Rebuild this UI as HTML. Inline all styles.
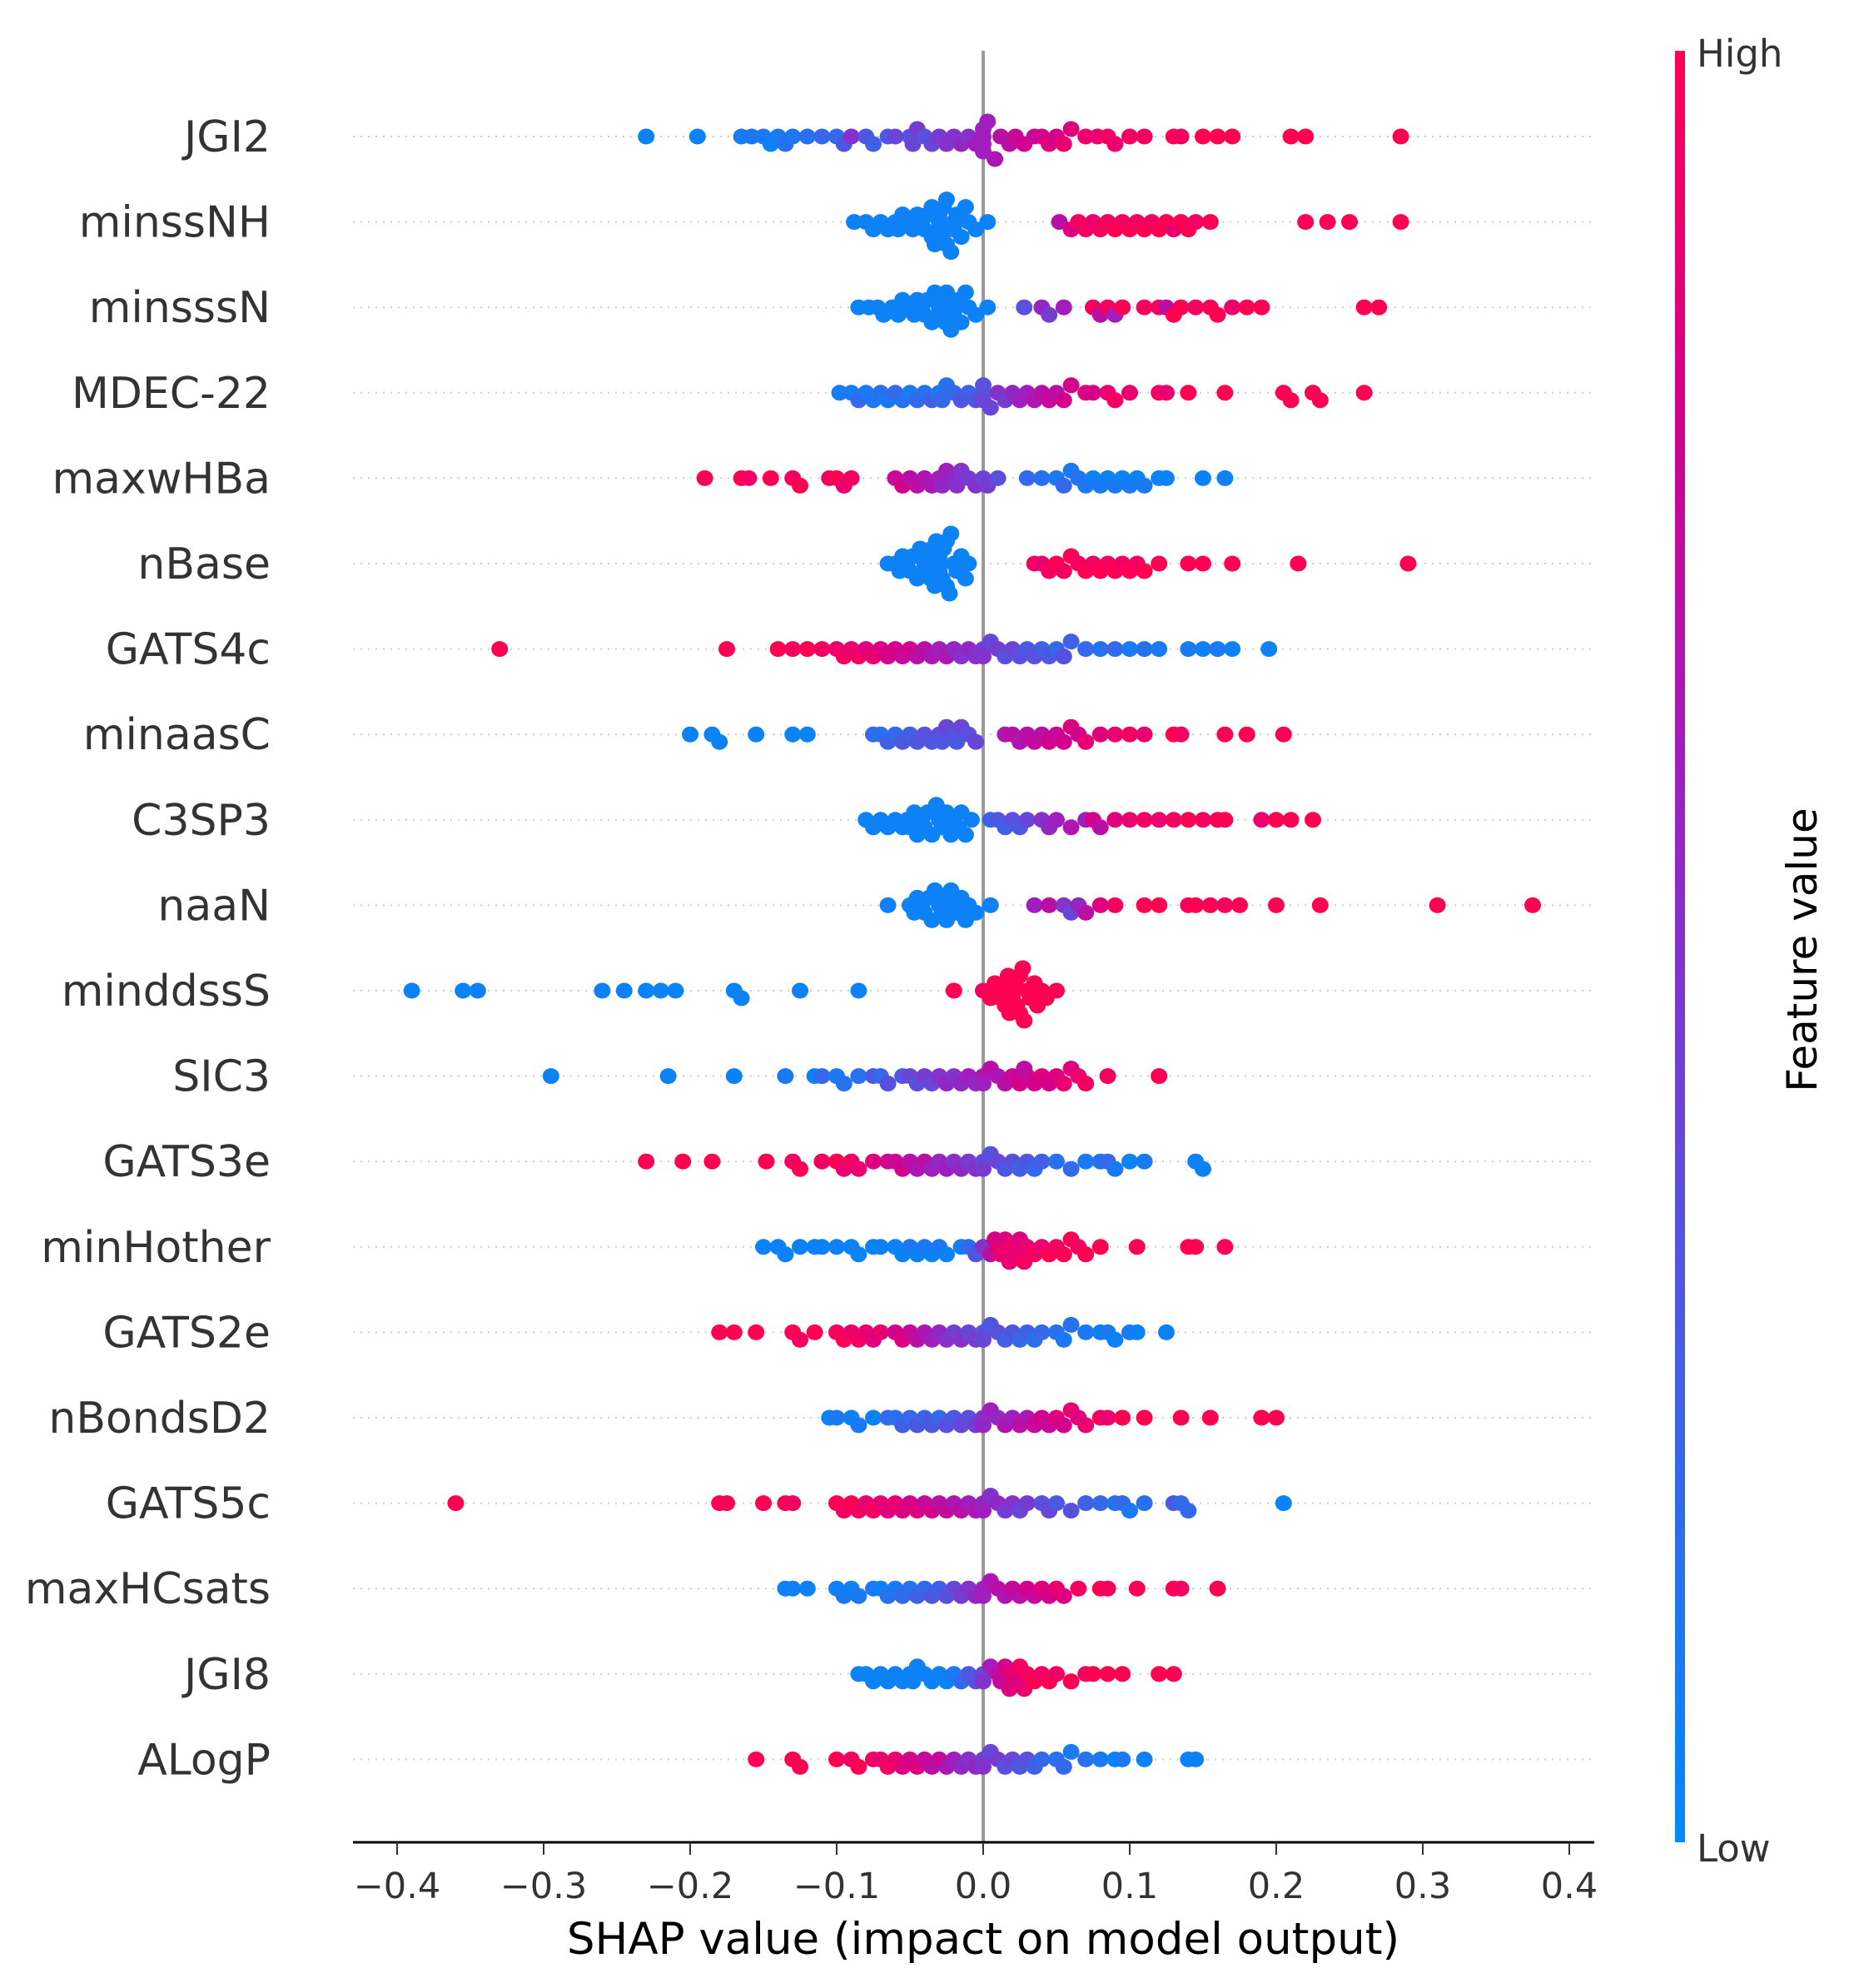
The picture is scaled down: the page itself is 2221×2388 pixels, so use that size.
<!DOCTYPE html>
<html><head><meta charset="utf-8"><style>
html,body{margin:0;padding:0;background:#fff;}
svg text{font-family:"DejaVu Sans","Liberation Sans",sans-serif;fill:#333;}
</style></head><body>
<svg id="chart" width="2221" height="2383" viewBox="0 0 2221 2383" xmlns="http://www.w3.org/2000/svg">
<defs><linearGradient id="cbg" x1="0" y1="1" x2="0" y2="0">
<stop offset="0" stop-color="rgb(0,138,251)"/><stop offset="0.35" stop-color="rgb(90,80,222)"/><stop offset="0.6" stop-color="rgb(160,30,190)"/><stop offset="0.8" stop-color="rgb(212,0,140)"/><stop offset="1" stop-color="rgb(255,0,82)"/></linearGradient></defs>
<g id="grid"></g><g id="labels"></g>
<line x1="1181" y1="61" x2="1181" y2="2213" stroke="#999" stroke-width="4"/>
<g id="dots"></g>
<line x1="424" y1="2213" x2="1915" y2="2213" stroke="#000" stroke-width="3"/>
<g id="ticks"></g>
<text x="1181" y="2347" font-size="53" text-anchor="middle" style="fill:#000">SHAP value (impact on model output)</text>
<rect x="2012" y="61" width="12" height="2152" fill="url(#cbg)"/>
<text x="2038" y="80" font-size="45">High</text>
<text x="2038" y="2236" font-size="45">Low</text>
<text x="0" y="0" font-size="50" text-anchor="middle" transform="translate(2182,1141) rotate(-90)" style="fill:#000">Feature value</text>
</svg>
<script>
const features=["JGI2","minssNH","minsssN","MDEC-22","maxwHBa","nBase","GATS4c","minaasC","C3SP3","naaN","minddssS","SIC3","GATS3e","minHother","GATS2e","nBondsD2","GATS5c","maxHCsats","JGI8","ALogP"];
const xTicks=[-0.4,-0.3,-0.2,-0.1,0.0,0.1,0.2,0.3,0.4];
const xTickLabels=["\u22120.4","\u22120.3","\u22120.2","\u22120.1","0.0","0.1","0.2","0.3","0.4"];
const shapJGI2=[[-0.23,.05],[-0.195,.05],[-0.165,.1],[-0.158,.1],[-0.15,.1],[-0.145,.05],[-0.14,.1],[-0.135,.15],[-0.13,.1],[-0.12,.15],[-0.11,.2],[-0.1,.2],[-0.095,.3],[-0.09,.5],[-0.08,.3],[-0.075,.25],[-0.065,.3],[-0.06,.4],[-0.05,.35],[-0.048,.4],[-0.045,.45],[-0.04,.35],[-0.035,.4],[-0.03,.45],[-0.025,.5],[-0.02,.5],[-0.015,.55],[-0.01,.5],[-0.005,.6],[0,.6],[0,.6],[0,.6],[0,.6],[0.003,.6],[0.008,.65],[0.012,.7],[0.018,.7],[0.022,.75],[0.028,.8],[0.035,.75],[0.04,.8],[0.045,.85],[0.05,.8],[0.055,.9],[0.06,.85],[0.07,.9],[0.078,.9],[0.085,.95],[0.09,.9],[0.1,.95],[0.11,.95],[0.13,1],[0.135,.95],[0.15,1],[0.16,1],[0.17,1],[0.21,1],[0.22,1],[0.285,1]];
const shapMinssNH=[[-0.088,.05],[-0.08,.05],[-0.075,.05],[-0.07,.05],[-0.065,.05],[-0.06,.05],[-0.058,.05],[-0.055,.05],[-0.05,.05],[-0.048,.05],[-0.045,.05],[-0.042,.05],[-0.04,.05],[-0.038,.05],[-0.035,.05],[-0.035,.05],[-0.033,.05],[-0.03,.05],[-0.03,.05],[-0.03,.05],[-0.028,.05],[-0.027,.05],[-0.025,.05],[-0.025,.05],[-0.022,.05],[-0.02,.05],[-0.02,.05],[-0.018,.05],[-0.015,.05],[-0.012,.05],[-0.01,.05],[-0.005,.05],[0.003,.05],[0.052,.7],[0.06,.85],[0.065,.95],[0.07,.95],[0.075,.9],[0.08,.95],[0.085,.95],[0.09,1],[0.095,.95],[0.1,1],[0.105,.95],[0.11,1],[0.115,.95],[0.12,1],[0.125,1],[0.13,.9],[0.135,1],[0.14,1],[0.145,.95],[0.155,1],[0.22,1],[0.235,1],[0.25,1],[0.285,1]];
const shapMinsssN=[[-0.085,.05],[-0.078,.05],[-0.072,.05],[-0.068,.05],[-0.062,.05],[-0.058,.05],[-0.055,.05],[-0.05,.05],[-0.047,.05],[-0.045,.05],[-0.042,.05],[-0.04,.05],[-0.038,.05],[-0.035,.05],[-0.033,.05],[-0.03,.05],[-0.03,.05],[-0.028,.05],[-0.026,.05],[-0.025,.05],[-0.022,.05],[-0.02,.05],[-0.02,.05],[-0.017,.05],[-0.015,.05],[-0.012,.05],[-0.01,.05],[-0.005,.05],[0.003,.05],[0.028,.35],[0.04,.55],[0.045,.45],[0.055,.6],[0.075,.95],[0.08,.7],[0.085,.95],[0.09,.6],[0.095,1],[0.11,.95],[0.12,.95],[0.125,.7],[0.13,1],[0.135,1],[0.145,.95],[0.155,1],[0.16,1],[0.17,.9],[0.18,1],[0.19,1],[0.26,1],[0.27,1]];
const shapMDEC=[[-0.098,.1],[-0.09,.1],[-0.085,.2],[-0.08,.1],[-0.075,.1],[-0.07,.15],[-0.065,.1],[-0.06,.2],[-0.055,.15],[-0.05,.1],[-0.045,.2],[-0.04,.15],[-0.035,.25],[-0.03,.1],[-0.028,.2],[-0.025,.15],[-0.02,.2],[-0.015,.3],[-0.01,.25],[-0.005,.3],[0,.3],[0,.4],[0,.35],[0.005,.4],[0.01,.5],[0.015,.45],[0.02,.55],[0.025,.6],[0.03,.6],[0.035,.65],[0.04,.7],[0.045,.75],[0.05,.7],[0.055,.8],[0.06,.8],[0.07,.85],[0.075,.8],[0.085,.9],[0.09,.95],[0.1,.9],[0.12,.95],[0.125,.9],[0.14,1],[0.165,1],[0.205,1],[0.21,1],[0.225,1],[0.23,1],[0.26,1]];
const shapMaxwHBa=[[-0.19,1],[-0.165,1],[-0.16,.95],[-0.145,1],[-0.13,.95],[-0.125,1],[-0.105,.95],[-0.1,1],[-0.095,.9],[-0.09,.95],[-0.06,.75],[-0.055,.8],[-0.05,.7],[-0.045,.7],[-0.04,.65],[-0.035,.65],[-0.03,.6],[-0.028,.55],[-0.025,.6],[-0.02,.55],[-0.018,.5],[-0.015,.5],[-0.01,.45],[-0.005,.5],[0,.4],[0.003,.45],[0.01,.35],[0.03,.2],[0.04,.15],[0.05,.1],[0.055,.2],[0.06,.1],[0.065,.15],[0.07,.1],[0.075,.05],[0.08,.1],[0.085,.05],[0.09,.1],[0.095,.05],[0.1,.1],[0.105,.05],[0.11,.1],[0.12,.05],[0.125,.05],[0.15,.05],[0.165,.05]];
const shapNBase=[[-0.065,.05],[-0.06,.05],[-0.057,.05],[-0.055,.05],[-0.052,.05],[-0.05,.05],[-0.048,.05],[-0.045,.05],[-0.043,.05],[-0.04,.05],[-0.04,.05],[-0.038,.05],[-0.036,.05],[-0.035,.05],[-0.033,.05],[-0.032,.05],[-0.03,.05],[-0.03,.05],[-0.03,.05],[-0.028,.05],[-0.027,.05],[-0.025,.05],[-0.025,.05],[-0.023,.05],[-0.022,.05],[-0.02,.05],[-0.018,.05],[-0.015,.05],[-0.012,.05],[-0.01,.05],[0.035,.95],[0.04,.9],[0.045,.95],[0.05,1],[0.055,.95],[0.06,1],[0.065,.95],[0.07,1],[0.075,.95],[0.08,1],[0.085,.95],[0.09,1],[0.095,.95],[0.1,1],[0.105,.95],[0.11,1],[0.12,1],[0.14,1],[0.15,1],[0.17,1],[0.215,1],[0.29,1]];
const shapGATS4c=[[-0.33,1],[-0.175,1],[-0.14,1],[-0.13,.95],[-0.12,1],[-0.11,.95],[-0.1,.9],[-0.095,.95],[-0.09,.9],[-0.085,.95],[-0.08,.85],[-0.075,.9],[-0.07,.85],[-0.065,.8],[-0.06,.8],[-0.055,.75],[-0.05,.8],[-0.045,.7],[-0.04,.7],[-0.035,.65],[-0.03,.6],[-0.025,.65],[-0.02,.55],[-0.015,.5],[-0.01,.55],[-0.005,.5],[0,.45],[0,.5],[0.005,.4],[0.01,.45],[0.015,.35],[0.02,.4],[0.025,.35],[0.03,.3],[0.035,.35],[0.04,.25],[0.045,.3],[0.05,.2],[0.055,.35],[0.06,.25],[0.07,.2],[0.08,.15],[0.09,.2],[0.1,.1],[0.11,.15],[0.12,.1],[0.14,.1],[0.15,.05],[0.16,.1],[0.17,.05],[0.195,.05]];
const shapMinaasC=[[-0.2,.05],[-0.185,.05],[-0.18,.05],[-0.155,.05],[-0.13,.05],[-0.12,.05],[-0.075,.2],[-0.07,.15],[-0.065,.25],[-0.06,.2],[-0.055,.3],[-0.05,.25],[-0.045,.3],[-0.04,.35],[-0.035,.3],[-0.03,.35],[-0.028,.3],[-0.025,.4],[-0.02,.35],[-0.018,.3],[-0.015,.4],[-0.01,.35],[-0.005,.4],[0.015,.65],[0.02,.7],[0.025,.65],[0.03,.7],[0.035,.75],[0.04,.7],[0.045,.8],[0.05,.75],[0.055,.8],[0.06,.85],[0.065,.8],[0.07,.9],[0.08,.85],[0.09,.9],[0.1,.95],[0.11,.9],[0.13,1],[0.135,.95],[0.165,1],[0.18,1],[0.205,1]];
const shapC3SP3=[[-0.08,.05],[-0.075,.05],[-0.07,.05],[-0.065,.05],[-0.06,.05],[-0.055,.05],[-0.052,.05],[-0.05,.05],[-0.047,.05],[-0.045,.05],[-0.042,.05],[-0.04,.05],[-0.038,.05],[-0.035,.05],[-0.032,.05],[-0.03,.05],[-0.028,.05],[-0.025,.05],[-0.022,.05],[-0.02,.05],[-0.017,.05],[-0.015,.05],[-0.012,.05],[-0.008,.05],[0.005,.25],[0.01,.3],[0.015,.25],[0.02,.35],[0.025,.3],[0.03,.4],[0.04,.5],[0.045,.55],[0.05,.6],[0.06,.65],[0.07,.6],[0.075,.8],[0.08,.7],[0.09,.85],[0.1,.9],[0.11,.95],[0.12,.9],[0.13,.95],[0.14,1],[0.15,.95],[0.16,1],[0.165,1],[0.19,.9],[0.2,1],[0.21,1],[0.225,1]];
const shapNaaN=[[-0.065,.05],[-0.05,.05],[-0.047,.05],[-0.045,.05],[-0.042,.05],[-0.04,.05],[-0.037,.05],[-0.035,.05],[-0.033,.05],[-0.03,.05],[-0.028,.05],[-0.027,.05],[-0.025,.05],[-0.022,.05],[-0.02,.05],[-0.018,.05],[-0.015,.05],[-0.012,.05],[-0.01,.05],[-0.005,.05],[0.005,.05],[0.035,.6],[0.045,.7],[0.055,.5],[0.06,.4],[0.065,.55],[0.07,.7],[0.08,.85],[0.09,.95],[0.11,1],[0.12,1],[0.14,.95],[0.145,1],[0.155,1],[0.165,.95],[0.175,1],[0.2,1],[0.23,1],[0.31,1],[0.375,1]];
const shapMinddssS=[[-0.39,.05],[-0.355,.05],[-0.345,.05],[-0.26,.05],[-0.245,.05],[-0.23,.05],[-0.22,.05],[-0.21,.05],[-0.17,.05],[-0.165,.05],[-0.125,.05],[-0.085,.05],[-0.02,1],[0,.95],[0.005,1],[0.008,1],[0.01,1],[0.012,1],[0.014,1],[0.015,1],[0.017,1],[0.018,1],[0.02,1],[0.02,1],[0.022,1],[0.023,1],[0.025,1],[0.025,1],[0.027,1],[0.028,1],[0.03,1],[0.032,1],[0.035,1],[0.037,1],[0.04,1],[0.043,1],[0.05,1]];
const shapSIC3=[[-0.295,.05],[-0.215,.05],[-0.17,.05],[-0.135,.1],[-0.115,.05],[-0.11,.2],[-0.1,.1],[-0.095,.15],[-0.085,.15],[-0.075,.3],[-0.07,.2],[-0.065,.35],[-0.055,.3],[-0.05,.4],[-0.045,.35],[-0.04,.45],[-0.035,.4],[-0.03,.5],[-0.025,.55],[-0.02,.5],[-0.015,.55],[-0.01,.6],[-0.005,.55],[0,.65],[0,.6],[0.005,.7],[0.01,.65],[0.015,.7],[0.02,.75],[0.025,.8],[0.028,.7],[0.03,.75],[0.035,.8],[0.04,.85],[0.045,.8],[0.05,.85],[0.055,.9],[0.06,.85],[0.065,.9],[0.07,.95],[0.085,.95],[0.12,1]];
const shapGATS3e=[[-0.23,1],[-0.205,1],[-0.185,1],[-0.148,1],[-0.13,.95],[-0.125,1],[-0.11,.95],[-0.1,1],[-0.095,.9],[-0.09,.95],[-0.085,.9],[-0.075,.85],[-0.065,.8],[-0.06,.75],[-0.055,.8],[-0.05,.7],[-0.045,.65],[-0.04,.7],[-0.035,.6],[-0.03,.55],[-0.025,.6],[-0.02,.5],[-0.015,.55],[-0.01,.45],[-0.005,.5],[0,.4],[0,.45],[0.005,.35],[0.01,.4],[0.015,.3],[0.02,.35],[0.025,.25],[0.03,.3],[0.035,.2],[0.04,.25],[0.05,.15],[0.06,.2],[0.07,.1],[0.08,.15],[0.085,.2],[0.09,.1],[0.1,.05],[0.11,.1],[0.145,.05],[0.15,.05]];
const shapMinHother=[[-0.15,.05],[-0.14,.05],[-0.135,.05],[-0.125,.05],[-0.115,.05],[-0.11,.05],[-0.1,.05],[-0.09,.05],[-0.085,.05],[-0.075,.05],[-0.07,.05],[-0.06,.05],[-0.055,.05],[-0.05,.1],[-0.045,.05],[-0.04,.1],[-0.035,.05],[-0.03,.1],[-0.025,.05],[-0.015,.05],[-0.01,.2],[-0.005,.3],[0,.5],[0.005,.7],[0.008,.8],[0.01,.85],[0.012,.9],[0.015,.85],[0.018,.9],[0.02,.95],[0.022,.9],[0.025,.85],[0.028,.95],[0.03,.9],[0.035,.95],[0.04,.9],[0.045,1],[0.05,.95],[0.055,1],[0.06,1],[0.065,.95],[0.07,1],[0.08,1],[0.105,1],[0.14,1],[0.145,1],[0.165,1]];
const shapGATS2e=[[-0.18,1],[-0.17,1],[-0.155,1],[-0.13,1],[-0.125,.95],[-0.115,1],[-0.1,.95],[-0.095,1],[-0.09,.9],[-0.085,.95],[-0.08,.9],[-0.075,.85],[-0.07,.9],[-0.06,.8],[-0.055,.85],[-0.05,.75],[-0.045,.7],[-0.04,.65],[-0.035,.6],[-0.03,.55],[-0.025,.5],[-0.02,.45],[-0.015,.5],[-0.01,.4],[-0.005,.45],[0,.35],[0,.4],[0.005,.3],[0.01,.35],[0.015,.25],[0.02,.3],[0.025,.2],[0.03,.25],[0.035,.15],[0.04,.2],[0.05,.15],[0.055,.1],[0.06,.15],[0.07,.1],[0.08,.05],[0.085,.1],[0.09,.05],[0.1,.1],[0.105,.05],[0.125,.05]];
const shapNBondsD2=[[-0.105,.05],[-0.1,.1],[-0.09,.05],[-0.085,.1],[-0.075,.05],[-0.065,.2],[-0.06,.15],[-0.055,.25],[-0.05,.2],[-0.045,.3],[-0.04,.25],[-0.035,.3],[-0.03,.2],[-0.025,.35],[-0.02,.3],[-0.015,.4],[-0.01,.35],[-0.005,.45],[0,.5],[0,.55],[0.005,.6],[0.01,.55],[0.015,.65],[0.02,.6],[0.025,.7],[0.03,.65],[0.035,.75],[0.04,.8],[0.045,.75],[0.05,.85],[0.055,.8],[0.06,.9],[0.065,.85],[0.07,.9],[0.08,.95],[0.085,.9],[0.095,1],[0.11,1],[0.135,1],[0.155,1],[0.19,1],[0.2,1]];
const shapGATS5c=[[-0.36,1],[-0.18,1],[-0.175,1],[-0.15,1],[-0.135,1],[-0.13,.95],[-0.1,1],[-0.095,.95],[-0.09,1],[-0.085,.95],[-0.08,.9],[-0.075,.95],[-0.07,.9],[-0.065,.85],[-0.06,.9],[-0.055,.85],[-0.05,.8],[-0.045,.85],[-0.04,.75],[-0.035,.8],[-0.03,.7],[-0.025,.75],[-0.02,.65],[-0.015,.7],[-0.01,.6],[-0.005,.65],[0,.55],[0,.6],[0.005,.5],[0.01,.55],[0.015,.45],[0.02,.5],[0.025,.4],[0.03,.45],[0.04,.35],[0.045,.4],[0.05,.3],[0.06,.35],[0.07,.25],[0.08,.2],[0.09,.15],[0.095,.2],[0.1,.1],[0.11,.15],[0.13,.3],[0.135,.2],[0.14,.2],[0.205,.05]];
const shapMaxHCsats=[[-0.135,.05],[-0.13,.05],[-0.12,.05],[-0.1,.05],[-0.095,.1],[-0.09,.05],[-0.085,.1],[-0.075,.1],[-0.07,.05],[-0.065,.15],[-0.06,.1],[-0.055,.2],[-0.05,.15],[-0.045,.25],[-0.04,.2],[-0.035,.3],[-0.03,.25],[-0.025,.35],[-0.02,.4],[-0.015,.45],[-0.01,.5],[-0.005,.55],[0,.6],[0,.6],[0.005,.65],[0.01,.7],[0.015,.65],[0.02,.75],[0.025,.7],[0.03,.8],[0.035,.75],[0.04,.85],[0.045,.8],[0.05,.9],[0.055,.85],[0.065,.95],[0.08,1],[0.085,.95],[0.105,1],[0.13,1],[0.135,.95],[0.16,1]];
const shapJGI8=[[-0.085,.05],[-0.08,.05],[-0.075,.05],[-0.07,.05],[-0.065,.05],[-0.06,.05],[-0.055,.05],[-0.05,.05],[-0.048,.05],[-0.045,.05],[-0.04,.05],[-0.035,.05],[-0.03,.05],[-0.025,.05],[-0.02,.1],[-0.015,.2],[-0.01,.3],[-0.005,.35],[0,.4],[0,.5],[0.005,.6],[0.01,.7],[0.012,.75],[0.015,.8],[0.018,.85],[0.02,.9],[0.022,.85],[0.025,.95],[0.028,.9],[0.03,.95],[0.035,1],[0.04,.95],[0.045,1],[0.05,.95],[0.06,1],[0.07,.95],[0.075,1],[0.085,1],[0.095,1],[0.12,1],[0.13,1]];
const shapALogP=[[-0.155,1],[-0.13,1],[-0.125,1],[-0.1,1],[-0.09,.95],[-0.085,1],[-0.075,.95],[-0.07,.9],[-0.065,.95],[-0.06,.9],[-0.055,.85],[-0.05,.8],[-0.045,.85],[-0.04,.75],[-0.035,.7],[-0.03,.75],[-0.025,.65],[-0.02,.6],[-0.015,.55],[-0.01,.5],[-0.005,.55],[0,.45],[0,.5],[0.005,.4],[0.01,.45],[0.015,.35],[0.02,.4],[0.025,.3],[0.03,.35],[0.035,.25],[0.04,.2],[0.05,.15],[0.055,.2],[0.06,.1],[0.07,.15],[0.08,.1],[0.09,.05],[0.095,.1],[0.11,.05],[0.14,.05],[0.145,.05]];
const rowData=[shapJGI2,shapMinssNH,shapMinsssN,shapMDEC,shapMaxwHBa,shapNBase,shapGATS4c,shapMinaasC,shapC3SP3,shapNaaN,shapMinddssS,shapSIC3,shapGATS3e,shapMinHother,shapGATS2e,shapNBondsD2,shapGATS5c,shapMaxHCsats,shapJGI8,shapALogP];

const NS="http://www.w3.org/2000/svg";
const X0=1181, PX=1760;
const xScale=v=>X0+v*PX;
const yScale=i=>164+i*102.6;
function mk(tag,attrs,parent){const e=document.createElementNS(NS,tag);for(const k in attrs)e.setAttribute(k,attrs[k]);parent.appendChild(e);return e;}
const stops=[[0,[0,138,251]],[0.35,[90,80,222]],[0.6,[160,30,190]],[0.8,[212,0,140]],[1,[255,0,82]]];
function col(t){for(let i=1;i<stops.length;i++){if(t<=stops[i][0]){const a=stops[i-1],b=stops[i];const f=(t-a[0])/(b[0]-a[0]);const c=a[1].map((v,j)=>Math.round(v+(b[1][j]-v)*f));return `rgb(${c[0]},${c[1]},${c[2]})`;}}return "rgb(255,0,82)";}
const grid=document.getElementById('grid'),labels=document.getElementById('labels'),dots=document.getElementById('dots'),ticks=document.getElementById('ticks');
features.forEach((f,i)=>{
  const y=yScale(i);
  const g=mk('line',{x1:424,y1:y,x2:1915,y2:y,stroke:'#ccc','stroke-width':2,'stroke-dasharray':'2,7'},grid);
  
  
  const t=mk('text',{x:325,y:y+18,'font-size':52,'text-anchor':'end'},labels);
  t.textContent=f;
  
  
  const bins={};
  rowData[i].forEach(p=>{
    const x=xScale(p[0]);const b=Math.round(x/18);
    const k=bins[b]||0;bins[b]=k+1;
    let off=Math.ceil(k/2)*9*(k%2?1:-1);
    off=Math.max(-42,Math.min(42,off));
    const c=mk('ellipse',{cx:x,cy:y+off,rx:10,ry:9.5,fill:col(p[1])},dots);
    
    
  });
});
xTicks.forEach((v,i)=>{
  const x=xScale(v);
  const l=mk('line',{x1:x,y1:2213,x2:x,y2:2228,stroke:'#333','stroke-width':2},ticks);
  
  
  const t=mk('text',{x:x,y:2280,'font-size':43,'text-anchor':'middle'},ticks);
  t.textContent=xTickLabels[i];
  
  
});
</script>
</body></html>
